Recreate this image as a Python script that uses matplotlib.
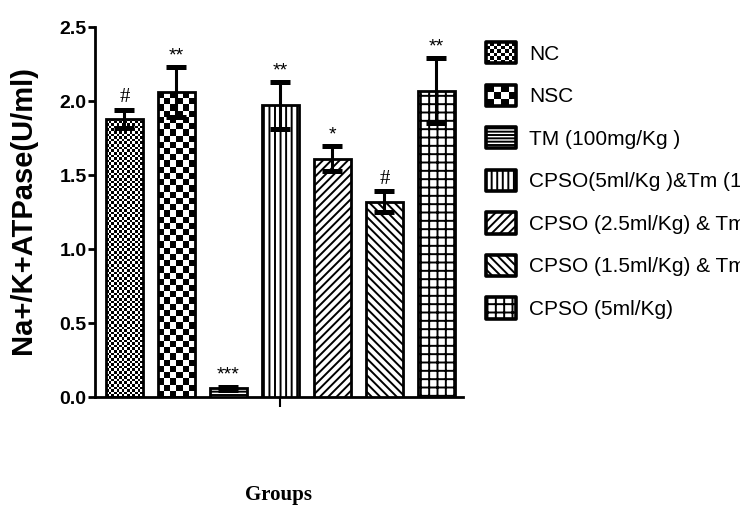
import numpy as np
import matplotlib
matplotlib.use('Agg')
import matplotlib.pyplot as plt
from matplotlib.patches import Rectangle
from matplotlib.collections import PatchCollection
from matplotlib.legend_handler import HandlerPatch

groups = ['NC', 'NSC', 'TM (100mg/Kg )', 'CPSO(5ml/Kg )&Tm (100mg/Kg)',
          'CPSO (2.5ml/Kg) & Tm(100mg/Kg)', 'CPSO (1.5ml/Kg) & Tm(100mg/Kg)',
          'CPSO (5ml/Kg)']
values = [1.88, 2.06, 0.06, 1.97, 1.61, 1.32, 2.07]
errors = [0.06, 0.17, 0.01, 0.16, 0.085, 0.07, 0.22]
signif = ['#', '**', '***', '**', '*', '#', '**']
yticks = [0.0, 0.5, 1.0, 1.5, 2.0, 2.5]

hatches = [None, None, '-----', '|||', '////', '\\\\\\\\', '++']
checker_cell_px = [2.6, 6.2, None, None, None, None, None]
legend_checker = [8, 4, None, None, None, None, None]

plt.rcParams['hatch.linewidth'] = 1.4
NARROW = ['Liberation Sans Narrow', 'Liberation Sans', 'DejaVu Sans']

fig = plt.figure(figsize=(7.40, 5.09), dpi=100)
ax = fig.add_axes([95/740, 1-397/509, (463-95)/740, (397-27)/509])
x = np.arange(len(values))
ax.set_xlim(-0.567, 6.51)
ax.set_ylim(0, 2.5)

bars = ax.bar(x, values, width=0.71, color='white', edgecolor='black',
              linewidth=2.0, zorder=3)
for b, h in zip(bars, hatches):
    if h:
        b.set_hatch(h)
    b.set_joinstyle('miter')

# checkerboard fills
for b, cell in zip(bars, checker_cell_px):
    if cell is None:
        continue
    b.set_facecolor('none')
    ext = b.get_window_extent()
    nx = max(1, int(round(ext.width / cell)))
    ny = max(1, int(round(ext.height / cell)))
    arr = (np.indices((ny, nx)).sum(0) % 2).astype(float)
    x0, y0 = b.get_x(), b.get_y()
    im = ax.imshow(arr, cmap='gray', vmin=0, vmax=1, origin='lower',
                   extent=(x0, x0 + b.get_width(), y0, y0 + b.get_height()),
                   interpolation='nearest', aspect='auto', zorder=2.5)
    im.set_clip_path(b)
ax.set_xlim(-0.567, 6.51)
ax.set_ylim(0, 2.5)

ax.errorbar(x, values, yerr=errors, fmt='none', ecolor='black',
            elinewidth=2.2, capsize=7, capthick=3.6, zorder=4)

for xi, v, e, s in zip(x, values, errors, signif):
    fam = ['Liberation Serif', 'DejaVu Serif'] if s == '#' else NARROW
    fs = 15 if s == '#' else 14
    ax.annotate(s, (xi, v + e), xytext=(0, 2), textcoords='offset points',
                ha='center', va='bottom', fontsize=fs, family=fam, zorder=5)

for side in ['top', 'right']:
    ax.spines[side].set_visible(False)
for side in ['left', 'bottom']:
    ax.spines[side].set_linewidth(2.0)
ax.set_yticks(yticks)
ax.set_yticklabels([f'{t:.1f}' for t in yticks], fontsize=14,
                   fontweight='bold', family=NARROW)
ax.set_xticks([3])
ax.set_xticklabels([''])
ax.tick_params(axis='y', length=5, width=2.0, direction='out', pad=1)
ax.tick_params(axis='x', length=7, width=1.5, direction='out')

fig.text(23/740, 1-210/509, 'Na+/K+ATPase(U/ml)', rotation=90, ha='center',
         va='center', fontsize=21, fontweight='bold',
         family=['Liberation Sans', 'DejaVu Sans'])
fig.text(278/740, 1-495/509, 'Groups', ha='center', va='center', fontsize=15,
         fontweight='bold', family=['Liberation Serif', 'DejaVu Serif'])


class HandlerChecker(HandlerPatch):
    def __init__(self, n, **kw):
        self.n = n
        super().__init__(**kw)

    def create_artists(self, legend, orig_handle, xdescent, ydescent,
                       width, height, fontsize, trans):
        nx = self.n
        ny = max(1, int(round(self.n * height / width)))
        cw, ch = width / nx, height / ny
        bg = Rectangle((-xdescent, -ydescent), width, height,
                       facecolor='white', edgecolor='none', transform=trans)
        sq = [Rectangle((-xdescent + i * cw, -ydescent + j * ch), cw, ch)
              for i in range(nx) for j in range(ny) if (i + j) % 2 == 0]
        pc = PatchCollection(sq, facecolor='black', edgecolor='none',
                             transform=trans)
        fr = Rectangle((-xdescent, -ydescent), width, height,
                       facecolor='none', edgecolor='black', linewidth=2.6,
                       joinstyle='round', transform=trans)
        return [bg, pc, fr]


handler_map = {}
for b, n in zip(bars, legend_checker):
    if n is not None:
        handler_map[b] = HandlerChecker(n)
    else:
        handler_map[b] = HandlerPatch()

leg = fig.legend(list(bars), groups, loc='upper left',
                 bbox_to_anchor=(486/740, 1-42/509), frameon=False,
                 borderpad=0, borderaxespad=0, handlelength=1.45,
                 handleheight=1.2, labelspacing=1.0, handletextpad=0.62,
                 prop={'family': NARROW, 'size': 15}, handler_map=handler_map)
for p in leg.get_patches():
    p.set_linewidth(2.6)
    p.set_joinstyle('round')

fig.savefig('out.png', dpi=100)
